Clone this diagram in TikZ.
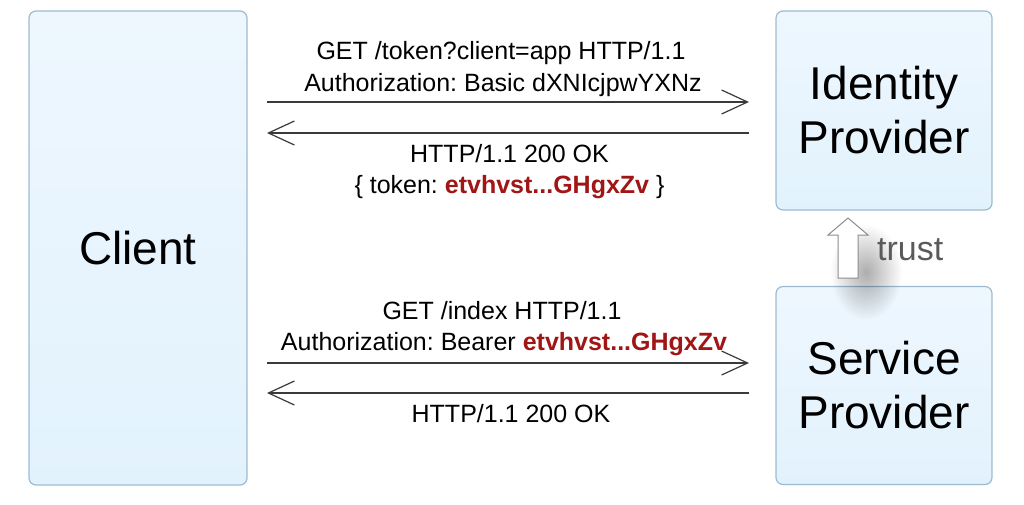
\documentclass[tikz,border=0pt]{standalone}
\usepackage{fontspec}
\setmainfont{Liberation Sans}
\usetikzlibrary{arrows.meta,fadings}
\definecolor{boxborder}{HTML}{9DBBD0}
\definecolor{boxtop}{HTML}{EEF7FE}
\definecolor{boxmid}{HTML}{D9EEFC}
\definecolor{boxbot}{HTML}{E2F2FD}
\definecolor{tokred}{HTML}{A01515}
\definecolor{msgline}{HTML}{3A3A3A}
\definecolor{trustgray}{HTML}{5A5A5A}
\definecolor{arrowgray}{HTML}{8C8C8C}
\tikzfading[name=softglow, inner color=transparent!0, outer color=transparent!100]
\frenchspacing
\begin{document}
\begin{tikzpicture}[x=1pt,y=-1pt,
  party/.style={draw=boxborder, line width=1.2pt, rounded corners=7pt,
    top color=boxtop, middle color=boxmid, bottom color=boxbot,
    inner sep=0pt, align=center, font=\fontsize{46}{54}\selectfont},
  msgtext/.style={anchor=base, inner sep=0pt, font=\fontsize{25}{30}\selectfont},
  msg/.style={draw=msgline, line width=1.3pt,
    -{Straight Barb[length=26pt,width=24pt,line width=1.2pt]}},
  tok/.style={text=tokred, font=\bfseries}]
\useasboundingbox (0,0) rectangle (1024,504);

% parties
\node[party, minimum width=218pt, minimum height=474pt] (client) at (138,248) {Client};
\node[party, minimum width=216pt, minimum height=199pt] (idp) at (884,110.5) {Identity\\Provider};
\node[party, minimum width=216pt, minimum height=198pt] (sp) at (884,385.5) {Service\\Provider};

% trust shadow and arrow
\fill[black, opacity=0.32, path fading=softglow] (866,272) ellipse [x radius=36, y radius=48];
\draw[draw=arrowgray, fill=white, line width=1pt, line join=miter]
  (848,218) -- (868,235) -- (858,235) -- (858,278) -- (838,278) -- (838,235) -- (828,235) -- cycle;
\node[inner sep=0pt, anchor=base west, text=trustgray, font=\fontsize{34}{40}\selectfont] (trust) at (877,260) {trust};

% connector end points
\coordinate (c1) at (267,102);
\coordinate (i1) at (749,102);
\coordinate (i2) at (749,133);
\coordinate (c2) at (267,133);
\coordinate (c3) at (267,363);
\coordinate (s3) at (749,363);
\coordinate (s4) at (749,393);
\coordinate (c4) at (267,393);

% token request / response
\node[msgtext] (req1a) at (501,59) {GET /token?client=app HTTP/1.1};
\node[msgtext] (req1b) at (503,91) {Authorization: Basic dXNIcjpwYXNz};
\draw[msg] (c1) -- (i1);
\draw[msg] (i2) -- (c2);
\node[msgtext] (res1a) at (509.5,162) {HTTP/1.1 200 OK};
\node[msgtext] (res1b) at (509.5,193) {\{ token: {\color{tokred}\bfseries etvhvst...GHgxZv} \}};

% resource request / response
\node[msgtext] (req2a) at (502,319) {GET /index HTTP/1.1};
\node[msgtext] (req2b) at (504,350) {Authorization: Bearer {\color{tokred}\bfseries etvhvst...GHgxZv}};
\draw[msg] (c3) -- (s3);
\draw[msg] (s4) -- (c4);
\node[msgtext] (res2a) at (511,422) {HTTP/1.1 200 OK};
\end{tikzpicture}
\end{document}
